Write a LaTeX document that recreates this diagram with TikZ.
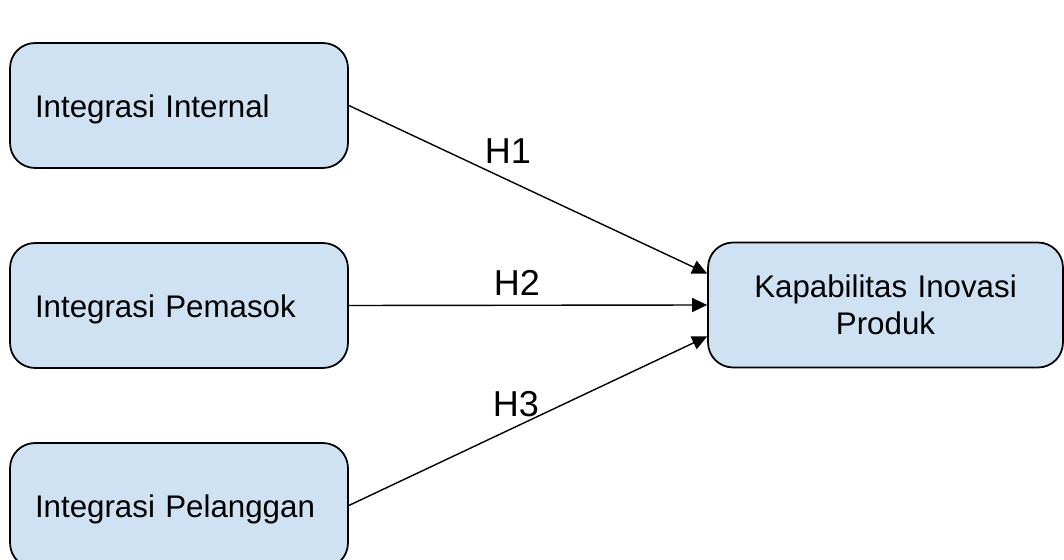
\documentclass[tikz,border=0pt]{standalone}
\usepackage{fontspec}
\setmainfont{Liberation Sans}
\usepackage{xcolor}
\usepackage{tikz}
\usetikzlibrary{arrows.meta}

\definecolor{boxblue}{HTML}{CFE2F3}

\tikzset{
  varbox/.style={draw,fill=boxblue,rounded corners=0.5cm,line width=1pt,
    minimum height=2.5cm,font=\fontsize{17.8}{21}\selectfont},
  leftbox/.style={varbox,align=left,inner xsep=0.5cm,text width=5.76cm,
    text height=13.2pt,text depth=0pt},
  rightbox/.style={varbox,align=center,minimum width=7.1cm,text width=6.6cm},
  hyp/.style={font=\fontsize{20.5}{23}\selectfont},
  arr/.style={-{Triangle[length=0.3cm,width=0.28cm]},line width=0.8pt}
}

\begin{document}
\begin{tikzpicture}[x=0.02cm,y=-0.02cm]
    \useasboundingbox (0,0) rectangle (1064,560);
    \node[leftbox] (ii) at (179,105.5) {Integrasi Internal};
    \node[leftbox] (ip) at (179,305.5) {Integrasi Pemasok};
    \node[leftbox] (ipl) at (179,505.5) {Integrasi Pelanggan};
    \node[rightbox] (kip) at (885.5,305) {Kapabilitas Inovasi\\Produk};
    \node[hyp] (h1) at (508,151) {H1};
    \node[hyp] (h2) at (517,283) {H2};
    \node[hyp] (h3) at (516,404) {H3};
    \draw[arr] (ii.east) to (kip.170);
    \draw[arr] (ip.east) to (kip.west);
    \draw[arr] (ipl.east) to (kip.190);
\end{tikzpicture}
\end{document}
